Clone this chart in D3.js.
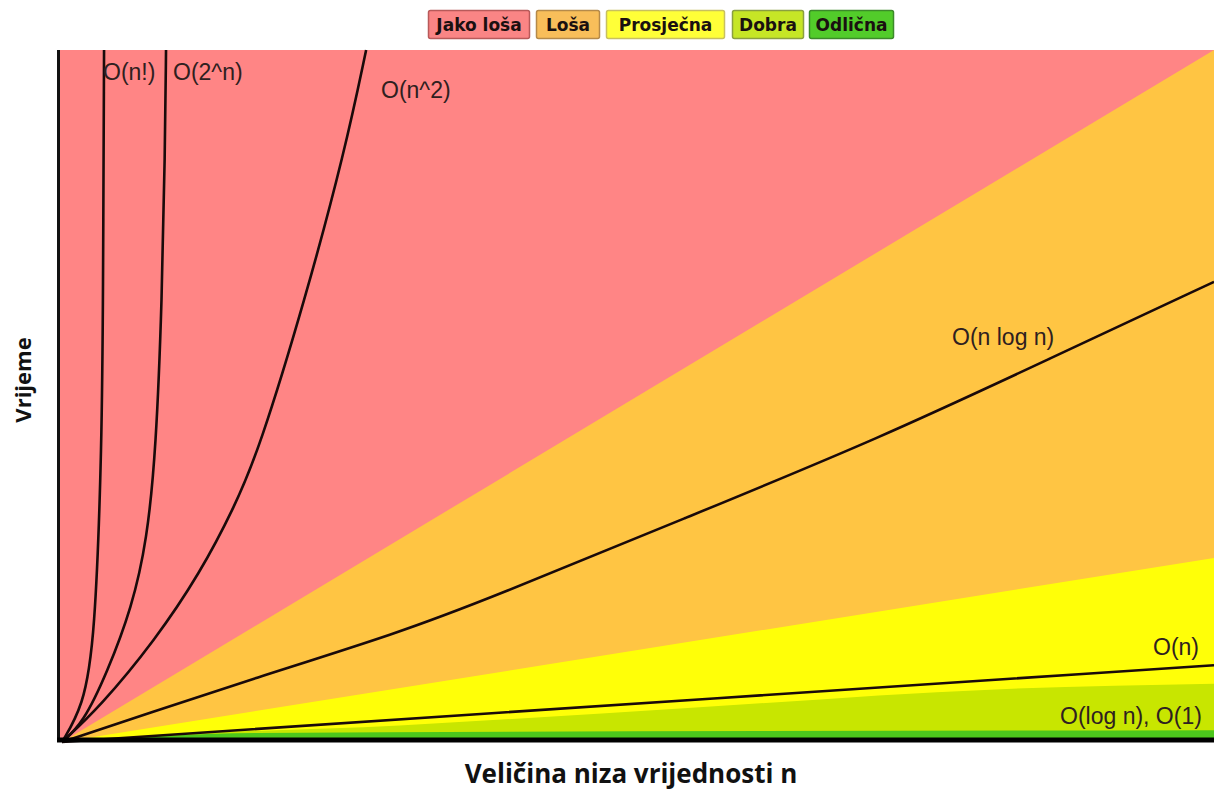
<!DOCTYPE html>
<html>
<head>
<meta charset="utf-8">
<script src="https://cdn.jsdelivr.net/npm/d3@7"></script>
<style>
	body { margin: 0; background: #fff; }
	svg { display: block; }
</style>
</head>
<body>
<svg id="chart" width="1214" height="791"></svg>
<script>
// legend
var legendLabels = ["Jako loša", "Loša", "Prosječna", "Dobra", "Odlična"];

// zone edges (x = n, y = time, both 0..100)
var redOrangeEdge = [[0, 0], [100, 100]];
var orangeYellowEdge = [[0, 0], [100, 26.6]];
var yellowDobraEdge = [[0, 0], [7.6, 0.9], [29.3, 2.4], [55, 5.0], [81, 7.6], [100, 8.4]];
var dobraGreenEdge = [[0, 0], [17, 1.3], [100, 1.7]];

// curves
var factorialPts = [[0, 0], [1.82, 5.1], [2.86, 14.5], [3.47, 43.6], [3.56, 63.9], [3.65, 100]];
var expPts = [[0, 0], [1.82, 2.7], [3.91, 10.0], [6.08, 19.5], [7.38, 29.2], [8.16, 42.2], [8.68, 63.9], [8.94, 85.5], [9.03, 100]];
var quadPts = [[0, 0], [3.3, 5.1], [8.07, 14.7], [11.98, 24.4], [14.98, 34.0], [17.1, 42.2], [21.1, 63.9], [24.57, 85.5], [26.4, 100]];
var nlognPts = [[0, 0], [7.6, 4.2], [16.3, 9.0], [29.3, 15.8], [37.2, 20.8], [54, 32.3], [71, 43.9], [86, 55.6], [100, 66.5]];
var linearPts = [[0, 0], [29.5, 3.3], [100, 11.1]];

var curveNames = ["O(n!)", "O(2^n)", "O(n^2)", "O(n log n)", "O(n)", "O(log n), O(1)"];

var zoneFill = ["#ff8585", "#ffc543", "#ffff08", "#c8e600", "#4cc71c"];
var legendFill = ["#fa8585", "#f8be5a", "#ffff38", "#c6e626", "#52cc2a"];
var legendStroke = ["#b85a5a", "#b58a4a", "#c8c060", "#8aa040", "#3c8a2a"];

var svg = d3.select("#chart");

var x = d3.scaleLinear().domain([0, 100]).range([62, 1214]);
var y = d3.scaleLinear().domain([0, 100]).range([742, 50]);

function drawZones(){
	svg.append("rect")
		.attr("x", 58).attr("y", y(100))
		.attr("width", 1214 - 58).attr("height", y(0) - y(100))
		.attr("fill", zoneFill[0]);

	var edges = [redOrangeEdge, orangeYellowEdge, yellowDobraEdge, dobraGreenEdge];
	var area = d3.area()
		.x(function(d){ return x(d[0]); })
		.y0(y(0))
		.y1(function(d){ return y(d[1]); })
		.curve(d3.curveMonotoneX);

	edges.forEach(function(e, i){
		svg.append("path")
			.attr("d", area(e))
			.attr("fill", zoneFill[i + 1]);
	});
}

function drawCurves(){
	var line = d3.line()
		.x(function(d){ return x(d[0]); })
		.y(function(d){ return y(d[1]); })
		.curve(d3.curveBasis);

	[factorialPts, expPts, quadPts, nlognPts, linearPts].forEach(function(p){
		svg.append("path").attr("d", line(p))
			.attr("fill", "none").attr("stroke", "#1a0a0a").attr("stroke-width", 2.6);
	});

	// axes frame
	svg.append("line")
		.attr("x1", 58.5).attr("x2", 58.5).attr("y1", y(100)).attr("y2", y(0))
		.attr("stroke", "#111").attr("stroke-width", 3);
	svg.append("line")
		.attr("x1", 57).attr("x2", 1214).attr("y1", 740).attr("y2", 740)
		.attr("stroke", "#000").attr("stroke-width", 5);
}

function drawLabels(){
	var pos = [[103, 80], [173, 80], [381, 98], [952, 345], [1153, 655], [1060, 724]];
	svg.append("g").selectAll("text")
		.data(curveNames)
		.join("text")
		.attr("x", function(d, i){ return pos[i][0]; })
		.attr("y", function(d, i){ return pos[i][1]; })
		.attr("font-family", "Liberation Sans, Arial, sans-serif")
		.attr("font-size", 23)
		.attr("fill", "#2e2020")
		.text(function(d){ return d; });

	svg.append("text")
		.attr("x", 631).attr("y", 783)
		.attr("text-anchor", "middle")
		.attr("font-family", "Open Sans, sans-serif")
		.attr("font-weight", "bold")
		.attr("font-size", 26)
		.attr("fill", "#111")
		.text("Veličina niza vrijednosti n");

	svg.append("text")
		.attr("transform", "translate(31,380) rotate(-90)")
		.attr("text-anchor", "middle")
		.attr("font-family", "Open Sans, sans-serif")
		.attr("font-weight", "bold")
		.attr("font-size", 22)
		.attr("fill", "#111")
		.text("Vrijeme");
}

function drawLegend(){
	var boxX = [428, 536, 606, 732, 809];
	var boxW = [101, 63, 118, 71, 84];
	var g = svg.append("g");
	legendLabels.forEach(function(t, i){
		g.append("rect")
			.attr("x", boxX[i] + 0.5).attr("y", 10.5)
			.attr("width", boxW[i]).attr("height", 28)
			.attr("rx", 2)
			.attr("fill", legendFill[i])
			.attr("stroke", legendStroke[i]).attr("stroke-width", 1.5);
		g.append("text")
			.attr("x", boxX[i] + boxW[i] / 2 + 0.5).attr("y", 31)
			.attr("text-anchor", "middle")
			.attr("font-family", "DejaVu Sans, sans-serif")
			.attr("font-weight", "bold")
			.attr("font-size", 17)
			.attr("fill", "#1a1010")
			.text(t);
	});
}

drawZones();
drawCurves();
drawLabels();
drawLegend();
</script>
</body>
</html>
